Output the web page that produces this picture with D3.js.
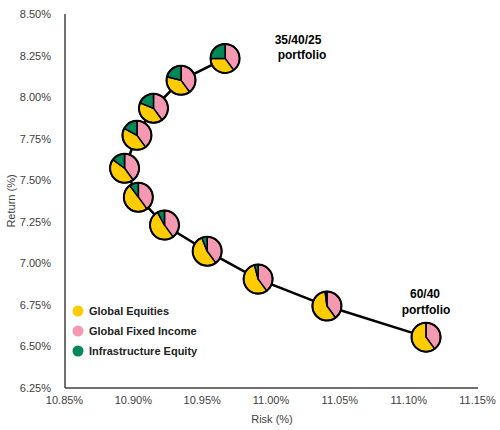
<!DOCTYPE html>
<html>
<head>
<meta charset="utf-8">
<script src="https://cdn.jsdelivr.net/npm/d3@7/dist/d3.min.js"></script>
<style>
  body { margin: 0; background: #fff; }
  text { font-family: "Liberation Sans", Arial, sans-serif; }
</style>
</head>
<body>
<div class="canva"></div>
<script>
// data
var risk = [10.967, 10.935, 10.915, 10.903, 10.894, 10.904, 10.923, 10.954, 10.991, 11.041, 11.113];
var ret = [8.233, 8.101, 7.933, 7.770, 7.572, 7.398, 7.230, 7.073, 6.905, 6.743, 6.556];
// allocation per point (%), pies go clockwise from 12 o'clock: fixed income, equities, infrastructure
var fixedIncome = [40, 40, 40, 40, 40, 40, 40, 40, 40, 40, 40];
var equities = [35, 39, 41, 43, 45, 50, 52, 54, 56, 58, 60];
var infra = [25, 21, 19, 17, 15, 10, 8, 6, 4, 2, 0];

var xTicks = [10.85, 10.90, 10.95, 11.00, 11.05, 11.10, 11.15];
var yTicks = [6.25, 6.50, 6.75, 7.00, 7.25, 7.50, 7.75, 8.00, 8.25, 8.50];
var legendNames = ["Global Equities", "Global Fixed Income", "Infrastructure Equity"];
var colors = { eq: "#FFCC00", fi: "#F598B1", inf: "#00875A" };

const svg = d3.select(".canva").append("svg")
    .attr("width", 500)
    .attr("height", 430);

var x = d3.scaleLinear().domain([10.85, 11.15]).range([64, 477]);
var y = d3.scaleLinear().domain([6.25, 8.50]).range([388, 14]);

// axes (lines only, no tick marks)
var xAxis = d3.axisBottom(x).tickValues(xTicks).tickSize(0).tickPadding(8)
    .tickFormat(d => d3.format(".2f")(d) + "%");
var yAxis = d3.axisLeft(y).tickValues(yTicks).tickSize(0).tickPadding(14)
    .tickFormat(d => d3.format(".2f")(d) + "%");

var gx = svg.append("g").attr("transform", "translate(0,388)").call(xAxis);
var gy = svg.append("g").attr("transform", "translate(65,0)").call(yAxis);
gy.select(".domain").attr("d", "M0,14V388");
gx.select(".domain").attr("d", "M65,0H478");
svg.selectAll(".domain").attr("stroke", "#404040").attr("stroke-width", 1.5);
svg.selectAll(".tick text").attr("font-size", 11).attr("fill", "#404040");

svg.append("text").attr("x", 272).attr("y", 423).attr("text-anchor", "middle")
    .attr("font-size", 11).attr("fill", "#404040").text("Risk (%)");
svg.append("text").attr("transform", "translate(15,201) rotate(-90)").attr("text-anchor", "middle")
    .attr("font-size", 11).attr("fill", "#404040").text("Return (%)");

// frontier line
var pts = risk.map((r, i) => [x(r), y(ret[i])]);
svg.append("path")
    .attr("d", d3.line()(pts))
    .attr("fill", "none")
    .attr("stroke", "#000")
    .attr("stroke-width", 2.5);

// pies
var pie = d3.pie().sort(null).value(d => d.v);
var arc = d3.arc().innerRadius(0).outerRadius(14.5);
risk.forEach(function(r, i) {
    var g = svg.append("g").attr("transform", `translate(${x(r)},${y(ret[i])})`);
    var slices = [
        { v: fixedIncome[i], c: colors.fi },
        { v: equities[i], c: colors.eq },
        { v: infra[i], c: colors.inf }
    ];
    g.selectAll("path").data(pie(slices)).enter().append("path")
        .attr("d", arc)
        .attr("fill", d => d.data.c)
        .attr("stroke", "#000")
        .attr("stroke-width", 1.5)
        .attr("stroke-linejoin", "round");
    g.append("circle").attr("r", 14.5).attr("fill", "none")
        .attr("stroke", "#000").attr("stroke-width", 2);
});

// annotations
svg.append("text").attr("x", 298).attr("y", 44).attr("text-anchor", "middle")
    .attr("font-size", 12).attr("font-weight", "bold").text("35/40/25");
svg.append("text").attr("x", 302).attr("y", 59).attr("text-anchor", "middle")
    .attr("font-size", 12).attr("font-weight", "bold").text("portfolio");
svg.append("text").attr("x", 425).attr("y", 298).attr("text-anchor", "middle")
    .attr("font-size", 12).attr("font-weight", "bold").text("60/40");
svg.append("text").attr("x", 426).attr("y", 314).attr("text-anchor", "middle")
    .attr("font-size", 12).attr("font-weight", "bold").text("portfolio");

// legend
var legColors = [colors.eq, colors.fi, colors.inf];
var leg = svg.selectAll(".leg").data(legendNames).enter().append("g")
    .attr("transform", (d, i) => `translate(78,${311 + i * 20})`);
leg.append("circle").attr("r", 5.5).attr("fill", (d, i) => legColors[i]);
leg.append("text").attr("x", 11).attr("y", 4).attr("font-size", 11)
    .attr("font-weight", "bold").attr("fill", "#222").text(d => d);
</script>
</body>
</html>
